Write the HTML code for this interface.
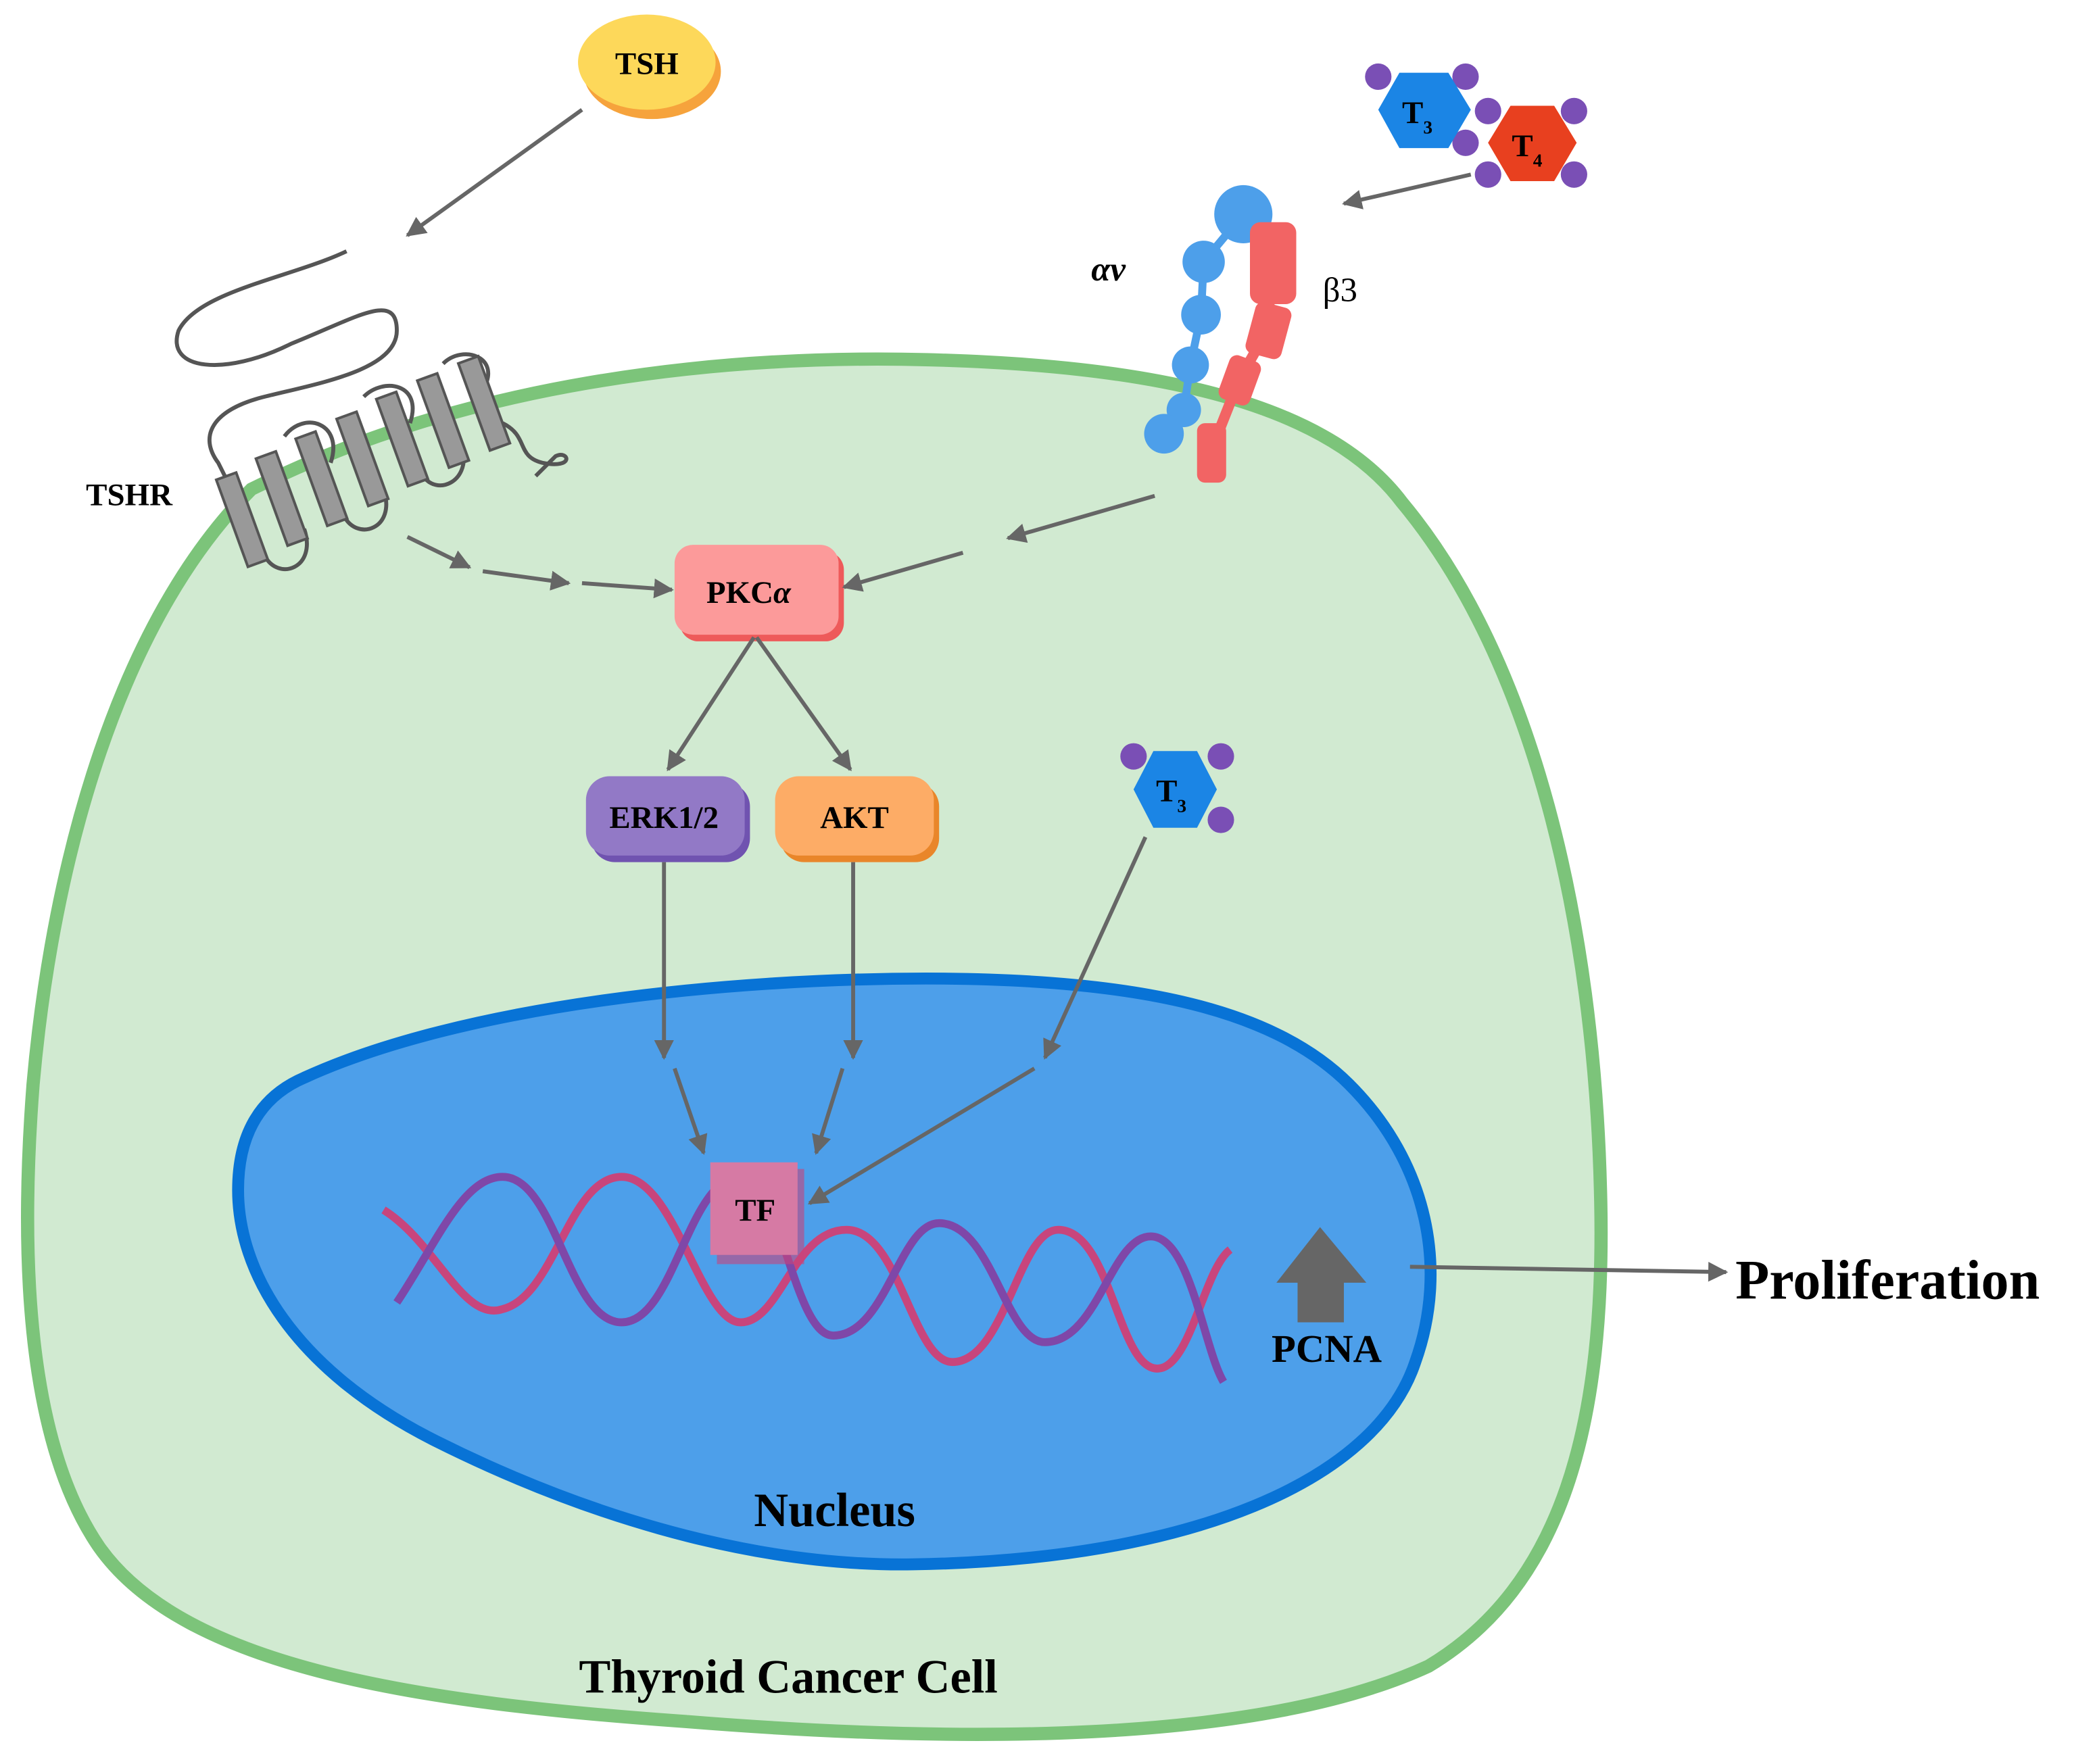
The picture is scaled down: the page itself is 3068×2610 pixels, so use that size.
<!DOCTYPE html>
<html><head><style>html,body{margin:0;padding:0;background:#fff}svg{display:block}</style></head>
<body>
<svg width="3068" height="2610" viewBox="0 0 1568 1334" preserveAspectRatio="none" xmlns="http://www.w3.org/2000/svg" font-family="Liberation Serif, serif" font-weight="bold">
<defs>
<marker id="ah" viewBox="0 0 10 10" refX="9" refY="5" markerWidth="5" markerHeight="5" orient="auto"><path d="M0,0L10,5L0,10z" fill="#666"/></marker>
</defs>
<path d="M190,370 C350,290 540,268 700,272 C860,276 1000,300 1060,380 C1160,500 1205,700 1210,900 C1215,1080 1180,1200 1080,1260 C950,1320 720,1318 520,1302 C320,1288 140,1262 75,1170 C20,1090 15,950 25,820 C40,650 90,470 190,370 Z" fill="#d1ead1" stroke="#7cc47a" stroke-width="10"/>
<path d="M230,815 C350,760 550,740 700,740 C850,740 960,760 1020,820 C1080,880 1095,960 1070,1030 C1040,1120 900,1180 690,1183 C560,1185 430,1140 330,1090 C220,1035 180,960 180,900 C180,860 195,830 230,815 Z" fill="#4d9fea" stroke="#0873d6" stroke-width="9"/>
<g fill="none" stroke="#555" stroke-width="3">
<path d="M262,190 C220,210 150,220 135,250 C125,280 170,285 220,260 C270,240 300,220 300,250 C300,280 240,290 200,300 C160,310 150,330 165,350 L175,370"/>
<path d="M200,420 C210,440 240,430 230,400 M215,330 C230,310 260,320 250,350 M260,390 C270,410 300,400 290,370 M275,300 C290,285 320,290 310,320 M320,360 C330,375 355,365 350,340 M335,275 C350,260 380,270 365,295 M380,320 C400,330 390,345 410,350 C435,355 430,340 420,345 L405,360"/>
</g>
<g fill="#999" stroke="#555" stroke-width="2">
<rect x="175" y="358" width="16" height="70" transform="rotate(-20 183 393)"/>
<rect x="205" y="342" width="16" height="70" transform="rotate(-20 213 377)"/>
<rect x="235" y="327" width="16" height="70" transform="rotate(-20 243 362)"/>
<rect x="266" y="312" width="16" height="70" transform="rotate(-20 274 347)"/>
<rect x="296" y="297" width="16" height="70" transform="rotate(-20 304 332)"/>
<rect x="327" y="283" width="16" height="70" transform="rotate(-20 335 318)"/>
<rect x="358" y="270" width="16" height="70" transform="rotate(-20 366 305)"/>
</g>
<text x="65" y="382" font-size="24">TSHR</text>
<ellipse cx="493" cy="54" rx="52" ry="36" fill="#f6a33c"/>
<ellipse cx="489" cy="47" rx="52" ry="36" fill="#fdd85a"/>
<text x="489" y="56" font-size="24" text-anchor="middle">TSH</text>
<path d="M940,162 L910,198 L908,238 L900,276 L895,310 L880,328" fill="none" stroke="#4d9fea" stroke-width="6"/>
<g fill="#4d9fea">
<circle cx="940" cy="162" r="22"/><circle cx="910" cy="198" r="16"/><circle cx="908" cy="238" r="15"/><circle cx="900" cy="276" r="14"/><circle cx="895" cy="310" r="13"/><circle cx="880" cy="328" r="15"/>
</g>
<path d="M962,200 L958,250 L937,287 L916,340" fill="none" stroke="#f26464" stroke-width="8"/>
<g fill="#f26464">
<rect x="945" y="168" width="35" height="62" rx="8"/><rect x="945" y="230" width="28" height="40" rx="6" transform="rotate(15 959 250)"/><rect x="925" y="270" width="25" height="35" rx="6" transform="rotate(20 937 287)"/><rect x="905" y="320" width="22" height="45" rx="6"/>
</g>
<text x="825" y="212" font-size="26" font-style="italic">αv</text>
<text x="1000" y="228" font-size="26" font-weight="normal">β3</text>
<g fill="#7a4fb5">
<circle cx="1042" cy="58" r="10"/><circle cx="1108" cy="58" r="10"/><circle cx="1108" cy="108" r="10"/><circle cx="1125" cy="84" r="10"/><circle cx="1190" cy="84" r="10"/><circle cx="1125" cy="132" r="10"/><circle cx="1190" cy="132" r="10"/>
<circle cx="857" cy="572" r="10"/><circle cx="923" cy="572" r="10"/><circle cx="923" cy="620" r="10"/>
</g>
<polygon points="1058,55 1095,55 1112,83 1095,112 1058,112 1042,83" fill="#1b85e5"/>
<polygon points="1142,80 1175,80 1192,108 1175,137 1142,137 1125,108" fill="#e8401f"/>
<polygon points="872,568 905,568 920,597 905,626 872,626 857,597" fill="#1b85e5"/>
<text x="1060" y="93" font-size="24">T<tspan font-size="14" dy="8">3</tspan></text>
<text x="1143" y="118" font-size="24">T<tspan font-size="14" dy="8">4</tspan></text>
<text x="874" y="606" font-size="24">T<tspan font-size="14" dy="8">3</tspan></text>
<rect x="514" y="417" width="124" height="68" rx="14" fill="#ee5a5a"/>
<rect x="510" y="412" width="124" height="68" rx="14" fill="#fc9a9a"/>
<text x="566" y="456" font-size="24" text-anchor="middle">PKC<tspan font-style="italic">α</tspan></text>
<rect x="447" y="592" width="120" height="60" rx="18" fill="#7053b0"/>
<rect x="443" y="587" width="120" height="60" rx="18" fill="#9279c6"/>
<text x="502" y="626" font-size="24" text-anchor="middle">ERK1/2</text>
<rect x="590" y="592" width="120" height="60" rx="18" fill="#e9862a"/>
<rect x="586" y="587" width="120" height="60" rx="18" fill="#fdac66"/>
<text x="646" y="626" font-size="24" text-anchor="middle">AKT</text>
<path d="M290,915 C330,940 350,1000 380,990 C420,980 430,890 470,890 C510,890 530,1000 560,1000 C590,1000 600,930 640,930 C680,930 690,1030 720,1030 C760,1030 770,930 800,930 C840,930 845,1035 875,1035 C900,1035 910,960 930,945" fill="none" stroke="#c8457c" stroke-width="6"/>
<path d="M300,985 C330,940 350,890 380,890 C420,890 430,1000 470,1000 C510,1000 520,890 560,890 C590,890 600,1010 630,1010 C670,1010 680,925 710,925 C750,925 760,1015 790,1015 C830,1015 840,935 870,935 C900,935 910,1020 925,1045" fill="none" stroke="#7f47a8" stroke-width="6"/>
<rect x="542" y="884" width="66" height="72" fill="#c8457c" opacity="0.6"/>
<rect x="537" y="879" width="66" height="70" fill="#d67aa4"/>
<text x="571" y="923" font-size="24" text-anchor="middle">TF</text>
<polygon points="998,928 1033,970 1016,970 1016,1000 981,1000 981,970 965,970" fill="#666"/>
<text x="1003" y="1030" font-size="30" text-anchor="middle">PCNA</text>
<text x="631" y="1154" font-size="36" text-anchor="middle">Nucleus</text>
<text x="596" y="1280" font-size="36" text-anchor="middle">Thyroid Cancer Cell</text>
<text x="1312" y="982" font-size="42">Proliferation</text>
<g stroke="#666" stroke-width="3" fill="none" marker-end="url(#ah)">
<path d="M440,83 L308,178"/>
<path d="M1112,132 L1016,154"/>
<path d="M873,375 L762,407"/>
<path d="M728,418 L638,444"/>
<path d="M308,406 L355,429"/>
<path d="M365,432 L430,441"/>
<path d="M440,441 L508,446"/>
<path d="M570,482 L505,582"/>
<path d="M572,482 L643,582"/>
<path d="M502,652 L502,800"/>
<path d="M510,808 L532,872"/>
<path d="M645,652 L645,800"/>
<path d="M637,808 L617,872"/>
<path d="M866,633 L790,800"/>
<path d="M782,808 L612,910"/>
<path d="M1066,958 L1305,962"/>
</g>
</svg>
</body></html>
